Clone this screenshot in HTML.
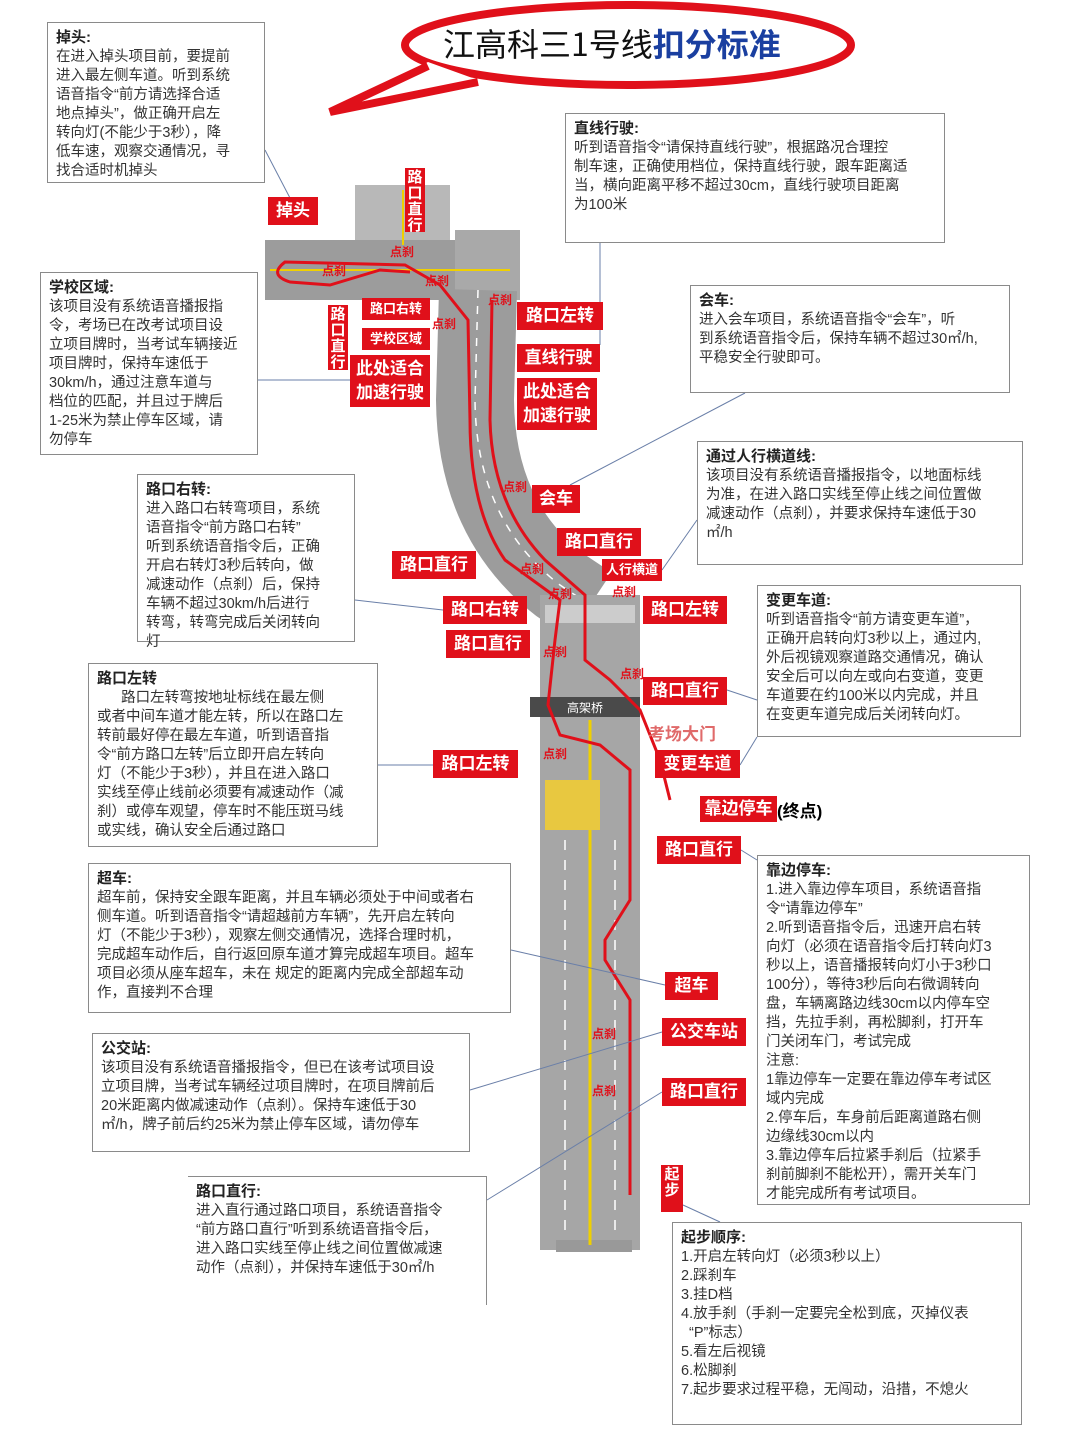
<!DOCTYPE html>
<html><head><meta charset="utf-8">
<style>
body{margin:0;width:1080px;height:1439px;background:#fff;position:relative;overflow:hidden;font-family:"Liberation Sans","Noto Sans CJK SC",sans-serif;}
.b{position:absolute;border:1px solid #8a8a8a;background:#fff;color:#333;font-size:14.5px;line-height:19px;padding:5px 8px;box-sizing:border-box;white-space:nowrap;}
.b b{color:#222;font-size:15px;}
.r{position:absolute;background:#e0101a;color:#fff;font-weight:bold;font-size:17px;line-height:28px;text-align:center;white-space:nowrap;}
.s{font-size:13px;line-height:22px;}
.v{font-size:15px;line-height:16px;width:20px;white-space:normal;padding-top:2px;}
.d{position:absolute;color:#e0101a;font-size:12px;font-weight:bold;}
svg{position:absolute;left:0;top:0;}
</style></head><body>
<svg width="1080" height="1439">
<rect x="355" y="185" width="95" height="60" fill="#b8b8b8"/>
<rect x="265" y="240" width="250" height="60" fill="#9c9c9c"/>
<rect x="455" y="230" width="65" height="70" fill="#a9a9a9"/>
<path d="M478 290 L475 400 Q476 520 560 585 L590 605" stroke="#9c9c9c" stroke-width="78" fill="none"/>
<path d="M478 290 L475 400 Q476 520 560 585 L590 605" stroke="#fff" stroke-width="1.5" stroke-dasharray="8 8" fill="none"/>
<rect x="540" y="595" width="100" height="655" fill="#a6a6a6"/>
<rect x="556" y="1240" width="76" height="12" fill="#999"/>
<line x1="590" y1="720" x2="590" y2="1245" stroke="#f0d000" stroke-width="3"/>
<line x1="565" y1="840" x2="565" y2="1240" stroke="#fff" stroke-width="1.5" stroke-dasharray="10 10"/>
<line x1="615" y1="840" x2="615" y2="1240" stroke="#fff" stroke-width="1.5" stroke-dasharray="10 10"/>
<rect x="545" y="780" width="55" height="50" fill="#e8c840"/>
<rect x="530" y="697" width="110" height="20" fill="#4a4a4a"/>
<text x="567" y="712" font-size="12" fill="#fff" font-family="Noto Sans CJK SC">高架桥</text>
<line x1="403" y1="190" x2="403" y2="245" stroke="#f0d000" stroke-width="2"/>
<line x1="270" y1="270" x2="510" y2="270" stroke="#f0d000" stroke-width="2"/>
<rect x="545" y="605" width="90" height="18" fill="#ddd" opacity=".7"/>
<path d="M630 1195 L630 1000 L605 960 L605 940 L630 900 L630 770 L600 745 L560 735 L548 705 L555 640 L560 600 L505 560 Q470 510 470 420 L468 320 L440 285 L405 265 L285 262 Q268 275 290 282 L330 285 L380 270 L410 272" stroke="#e0101a" stroke-width="3" fill="none"/>
<path d="M492 300 L490 420 Q492 505 545 560 L585 595 L585 660 L610 680 L640 710 L660 760 L670 800" stroke="#e0101a" stroke-width="3" fill="none"/>
<!-- title bubble -->
<ellipse cx="628" cy="45" rx="223" ry="40" fill="#fff" stroke="#e0101a" stroke-width="8"/>
<polygon points="428,62 330,112 478,80" fill="#fff"/>
<polyline points="428,66 330,112 478,82" fill="none" stroke="#e0101a" stroke-width="8" stroke-linejoin="miter"/>
<g stroke="#6a7fa8" stroke-width="1" fill="none">
<line x1="600" y1="243" x2="600" y2="345"/>
<line x1="745" y1="393" x2="570" y2="485"/>
<line x1="697" y1="520" x2="662" y2="570"/>
<line x1="355" y1="600" x2="443" y2="610"/>
<line x1="757" y1="700" x2="727" y2="690"/>
<line x1="757" y1="737" x2="740" y2="765"/>
<line x1="378" y1="765" x2="433" y2="765"/>
<line x1="757" y1="860" x2="741" y2="850"/>
<line x1="511" y1="950" x2="665" y2="985"/>
<line x1="470" y1="1090" x2="662" y2="1032"/>
<line x1="487" y1="1200" x2="662" y2="1092"/>
<line x1="683" y1="1205" x2="720" y2="1222"/>
<line x1="258" y1="380" x2="350" y2="380"/>
<line x1="265" y1="150" x2="290" y2="198"/>
</g>
</svg>
<div style="position:absolute;left:443px;top:20px;font-size:32px;font-family:'Noto Sans CJK SC',sans-serif;color:#111;">江高科三1号线<span style="color:#1a3fa0;font-weight:bold">扣分标准</span></div>

<div class="b" style="left:47px;top:22px;width:218px;height:161px"><b>掉头:</b><br>在进入掉头项目前，要提前<br>进入最左侧车道。听到系统<br>语音指令“前方请选择合适<br>地点掉头”，做正确开启左<br>转向灯(不能少于3秒），降<br>低车速，观察交通情况，寻<br>找合适时机掉头</div>
<div class="b" style="left:565px;top:113px;width:380px;height:130px"><b>直线行驶:</b><br>听到语音指令“请保持直线行驶”，根据路况合理控<br>制车速，正确使用档位，保持直线行驶，跟车距离适<br>当，横向距离平移不超过30cm，直线行驶项目距离<br>为100米</div>
<div class="b" style="left:690px;top:285px;width:320px;height:108px"><b>会车:</b><br>进入会车项目，系统语音指令“会车”，听<br>到系统语音指令后，保持车辆不超过30㎡/h,<br>平稳安全行驶即可。</div>
<div class="b" style="left:40px;top:272px;width:218px;height:183px"><b>学校区域:</b><br>该项目没有系统语音播报指<br>令，考场已在改考试项目设<br>立项目牌时，当考试车辆接近<br>项目牌时，保持车速低于<br>30km/h，通过注意车道与<br>档位的匹配，并且过于牌后<br>1-25米为禁止停车区域，请<br>勿停车</div>
<div class="b" style="left:697px;top:441px;width:326px;height:124px"><b>通过人行横道线:</b><br>该项目没有系统语音播报指令，以地面标线<br>为准，在进入路口实线至停止线之间位置做<br>减速动作（点刹），并要求保持车速低于30<br>㎡/h</div>
<div class="b" style="left:137px;top:474px;width:218px;height:168px"><b>路口右转:</b><br>进入路口右转弯项目，系统<br>语音指令“前方路口右转”<br>听到系统语音指令后，正确<br>开启右转灯3秒后转向，做<br>减速动作（点刹）后，保持<br>车辆不超过30km/h后进行<br>转弯，转弯完成后关闭转向<br>灯</div>
<div class="b" style="left:757px;top:585px;width:264px;height:152px"><b>变更车道:</b><br>听到语音指令“前方请变更车道”，<br>正确开启转向灯3秒以上，通过内,<br>外后视镜观察道路交通情况，确认<br>安全后可以向左或向右变道，变更<br>车道要在约100米以内完成，并且<br>在变更车道完成后关闭转向灯。</div>
<div class="b" style="left:88px;top:663px;width:290px;height:184px"><b>路口左转</b><br>&nbsp;&nbsp;&nbsp;&nbsp;&nbsp;&nbsp;路口左转弯按地址标线在最左侧<br>或者中间车道才能左转，所以在路口左<br>转前最好停在最左车道，听到语音指<br>令“前方路口左转”后立即开启左转向<br>灯（不能少于3秒），并且在进入路口<br>实线至停止线前必须要有减速动作（减<br>刹）或停车观望，停车时不能压斑马线<br>或实线，确认安全后通过路口</div>
<div class="b" style="left:757px;top:855px;width:273px;height:350px"><b>靠边停车:</b><br>1.进入靠边停车项目，系统语音指<br>令“请靠边停车”<br>2.听到语音指令后，迅速开启右转<br>向灯（必须在语音指令后打转向灯3<br>秒以上，语音播报转向灯小于3秒口<br>100分），等待3秒后向右微调转向<br>盘，车辆离路边线30cm以内停车空<br>挡，先拉手刹，再松脚刹，打开车<br>门关闭车门，考试完成<br>注意:<br>1靠边停车一定要在靠边停车考试区<br>域内完成<br>2.停车后，车身前后距离道路右侧<br>边缘线30cm以内<br>3.靠边停车后拉紧手刹后（拉紧手<br>刹前脚刹不能松开），需开关车门<br>才能完成所有考试项目。</div>
<div class="b" style="left:88px;top:863px;width:423px;height:150px"><b>超车:</b><br>超车前，保持安全跟车距离，并且车辆必须处于中间或者右<br>侧车道。听到语音指令“请超越前方车辆”，先开启左转向<br>灯（不能少于3秒），观察左侧交通情况，选择合理时机，<br>完成超车动作后，自行返回原车道才算完成超车项目。超车<br>项目必须从座车超车，未在 规定的距离内完成全部超车动<br>作，直接判不合理</div>
<div class="b" style="left:92px;top:1033px;width:378px;height:119px"><b>公交站:</b><br>该项目没有系统语音播报指令，但已在该考试项目设<br>立项目牌，当考试车辆经过项目牌时，在项目牌前后<br>20米距离内做减速动作（点刹）。保持车速低于30<br>㎡/h，牌子前后约25米为禁止停车区域，请勿停车</div>
<div class="b" style="left:188px;top:1176px;width:299px;height:129px;border:none;border-top:1px solid #8a8a8a;border-right:1px solid #8a8a8a"><b>路口直行:</b><br>进入直行通过路口项目，系统语音指令<br>“前方路口直行”听到系统语音指令后，<br>进入路口实线至停止线之间位置做减速<br>动作（点刹），并保持车速低于30㎡/h</div>
<div class="b" style="left:672px;top:1222px;width:350px;height:203px"><b>起步顺序:</b><br>1.开启左转向灯（必须3秒以上）<br>2.踩刹车<br>3.挂D档<br>4.放手刹（手刹一定要完全松到底，灭掉仪表<br>&nbsp;&nbsp;“P”标志）<br>5.看左后视镜<br>6.松脚刹<br>7.起步要求过程平稳，无闯动，沿措，不熄火</div>

<div class="r" style="left:268px;top:197px;width:50px">掉头</div>
<div class="r v" style="left:405px;top:168px;height:62px">路口直行</div>
<div class="r s" style="left:362px;top:298px;width:68px">路口右转</div>
<div class="r s" style="left:362px;top:328px;width:68px">学校区域</div>
<div class="r v" style="left:328px;top:305px;height:63px">路口直行</div>
<div class="r" style="left:350px;top:355px;width:80px;line-height:24px;padding:2px 0">此处适合<br>加速行驶</div>
<div class="r" style="left:517px;top:302px;width:86px">路口左转</div>
<div class="r" style="left:517px;top:344px;width:83px">直线行驶</div>
<div class="r" style="left:517px;top:378px;width:80px;line-height:24px;padding:2px 0">此处适合<br>加速行驶</div>
<div class="r" style="left:532px;top:485px;width:48px">会车</div>
<div class="r" style="left:557px;top:528px;width:84px">路口直行</div>
<div class="r" style="left:392px;top:551px;width:84px">路口直行</div>
<div class="r s" style="left:602px;top:559px;width:60px">人行横道</div>
<div class="r" style="left:443px;top:596px;width:84px">路口右转</div>
<div class="r" style="left:643px;top:596px;width:84px">路口左转</div>
<div class="r" style="left:446px;top:630px;width:84px">路口直行</div>
<div class="r" style="left:643px;top:677px;width:84px">路口直行</div>
<div class="r" style="left:433px;top:750px;width:85px">路口左转</div>
<div class="r" style="left:655px;top:750px;width:85px">变更车道</div>
<div class="r" style="left:700px;top:796px;width:77px;line-height:26px">靠边停车</div>
<div style="position:absolute;left:777px;top:797px;font-weight:bold;font-size:17px">(终点)</div>
<div class="r" style="left:657px;top:836px;width:84px">路口直行</div>
<div class="r" style="left:665px;top:972px;width:53px">超车</div>
<div class="r" style="left:662px;top:1018px;width:84px">公交车站</div>
<div class="r" style="left:662px;top:1078px;width:84px">路口直行</div>
<div class="r v" style="left:661px;top:1165px;height:45px;width:22px">起步</div>
<div style="position:absolute;left:648px;top:720px;color:#e06a6a;font-size:17px;font-weight:bold">考场大门</div>

<div class="d" style="left:322px;top:262px">点刹</div>
<div class="d" style="left:390px;top:243px">点刹</div>
<div class="d" style="left:425px;top:272px">点刹</div>
<div class="d" style="left:488px;top:291px">点刹</div>
<div class="d" style="left:432px;top:315px">点刹</div>
<div class="d" style="left:503px;top:478px">点刹</div>
<div class="d" style="left:520px;top:560px">点刹</div>
<div class="d" style="left:548px;top:585px">点刹</div>
<div class="d" style="left:612px;top:583px">点刹</div>
<div class="d" style="left:543px;top:643px">点刹</div>
<div class="d" style="left:620px;top:665px">点刹</div>
<div class="d" style="left:543px;top:745px">点刹</div>
<div class="d" style="left:592px;top:1025px">点刹</div>
<div class="d" style="left:592px;top:1082px">点刹</div>
</body></html>
